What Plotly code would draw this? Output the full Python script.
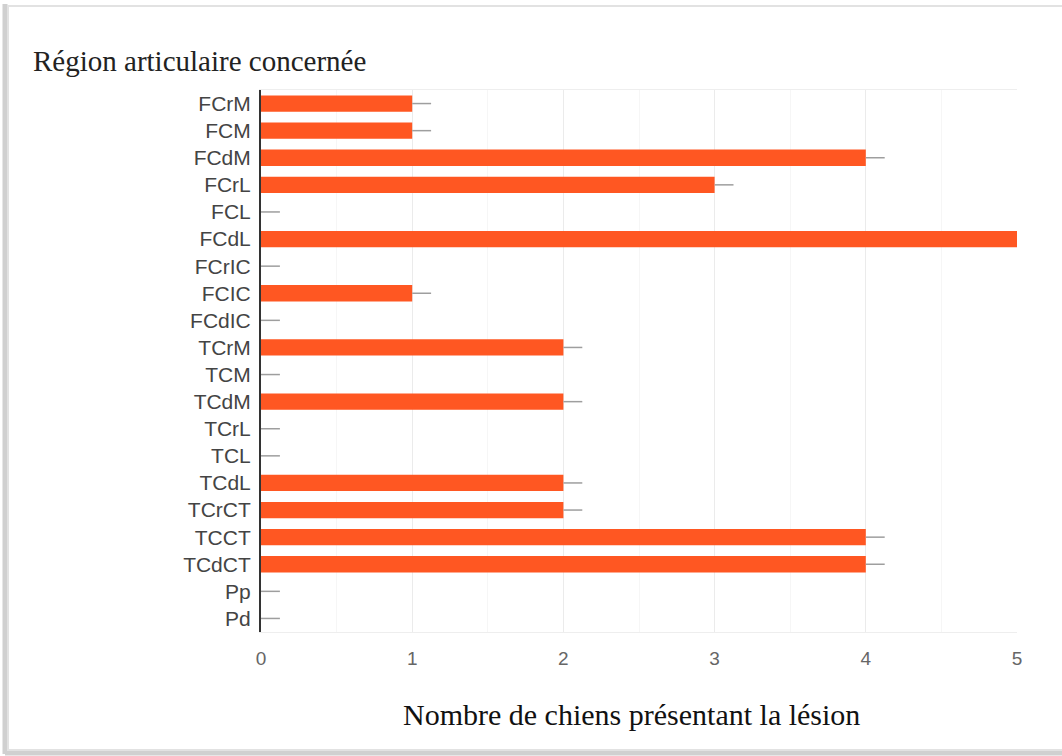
import plotly.graph_objects as go

# data
regions = ["FCrM", "FCM", "FCdM", "FCrL", "FCL", "FCdL", "FCrIC", "FCIC", "FCdIC",
           "TCrM", "TCM", "TCdM", "TCrL", "TCL", "TCdL", "TCrCT", "TCCT", "TCdCT",
           "Pp", "Pd"]
dogs = [1, 1, 4, 3, 0, 5, 0, 1, 0, 2, 0, 2, 0, 0, 2, 2, 4, 4, 0, 0]
x_ticks = [0, 1, 2, 3, 4, 5]

W, H = 1062, 756
L, R, T, B = 261, 45, 90, 124
PW, PH = W - L - R, H - T - B


# pixel -> paper helpers for the decorative frame
def px(x):
    return (x - L) / PW


def py(y):
    return (H - B - y) / PH


fig = go.Figure()
fig.add_trace(go.Bar(
    x=dogs, y=regions, orientation="h",
    marker=dict(color="#FF5722", line=dict(width=0)),
    error_x=dict(type="constant", value=0.125, symmetric=False, valueminus=0,
                 color="#9e9e9e", thickness=1.5, width=0),
    hoverinfo="x+y",
))

fig.update_layout(
    width=W, height=H,
    margin=dict(l=L, r=R, t=T, b=B),
    paper_bgcolor="white", plot_bgcolor="white",
    bargap=0.4, showlegend=False,
    font=dict(family="Liberation Sans, Arial, sans-serif"),
)
fig.update_xaxes(
    range=[0, 5], tickvals=x_ticks, showgrid=True, gridcolor="#ebebeb", gridwidth=1,
    minor=dict(dtick=0.5, showgrid=True, gridcolor="#f6f6f6"),
    zeroline=False, showline=True, mirror=True, linecolor="#eeeeee", linewidth=1,
    ticks="outside", ticklen=9, tickcolor="rgba(0,0,0,0)",
    tickfont=dict(size=19, color="#666666"),
)
fig.update_yaxes(
    autorange="reversed", showgrid=False, zeroline=False,
    showline=True, linecolor="#333333", linewidth=2,
    ticks="outside", ticklen=4, tickcolor="rgba(0,0,0,0)",
    tickfont=dict(size=21, color="#444444"),
)

# title and x-axis label
fig.add_annotation(text="Région articulaire concernée", xref="paper", yref="paper",
                   x=px(31), y=py(61), xanchor="left", yanchor="middle", showarrow=False,
                   font=dict(family="Liberation Serif, DejaVu Serif, serif", size=29, color="#222222"))
fig.add_annotation(text="Nombre de chiens présentant la lésion", xref="paper", yref="paper",
                   x=px(631), y=py(714), xanchor="center", yanchor="middle", showarrow=False,
                   font=dict(family="Liberation Serif, DejaVu Serif, serif", size=30, color="#111111"))

# frame with a soft shadow on the left and bottom
fig.add_shape(type="line", xref="paper", yref="paper", x0=px(5), x1=px(5), y0=py(4), y1=py(754),
              line=dict(color="#d0d0d0", width=5))
fig.add_shape(type="line", xref="paper", yref="paper", x0=px(5), x1=px(1070), y0=py(753), y1=py(753),
              line=dict(color="#d0d0d0", width=5))
fig.add_shape(type="rect", xref="paper", yref="paper", x0=px(8), x1=px(1070), y0=py(6), y1=py(750),
              line=dict(color="#e2e2e2", width=2))

fig.write_html("out.html", config={"displayModeBar": False},
               post_script="document.body.style.margin='0';")
